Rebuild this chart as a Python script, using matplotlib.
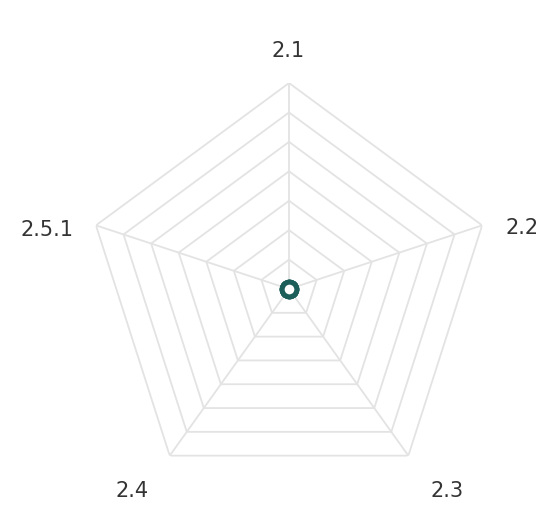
import numpy as np
import matplotlib.pyplot as plt

categories = ['2.1', '2.2', '2.3', '2.4', '2.5.1']
values = [0, 0, 0, 0, 0]
levels = [1, 2, 3, 4, 5, 6, 7]

angles = np.linspace(0, 2 * np.pi, len(categories), endpoint=False)
closed = np.append(angles, angles[0])

fig = plt.figure(figsize=(5.4, 5.05), dpi=100)
ax = fig.add_axes([0.1593, 0.0198, 0.7519, 0.8158], projection='polar')
ax.set_aspect('auto')
ax.set_theta_offset(np.pi / 2)
ax.set_theta_direction(-1)
ax.set_ylim(0, levels[-1])
ax.grid(False)
ax.spines['polar'].set_visible(False)
ax.set_xticks([])
ax.set_yticks([])
ax.patch.set_alpha(0)

grid_color = '#e3e3e3'
for lv in levels:
    ax.plot(closed, [lv] * len(closed), color=grid_color, lw=1.3, zorder=1)
for a in angles:
    ax.plot([a, a], [0, levels[-1]], color=grid_color, lw=1.3, zorder=1)

# series (all zero -> single point in the middle)
v = np.append(values, values[0])
ax.plot(closed, v, color='#1b5e5a', lw=2, marker='o', markersize=10.5,
        markerfacecolor='white', markeredgewidth=3.5, zorder=3, clip_on=False)

# point labels: offset from the outer vertex, in pixels
label_style = [
    ((-1, 26), 'center'),
    ((23, -9), 'left'),
    ((39, -41), 'center'),
    ((-38, -41), 'center'),
    ((-22, -11), 'right'),
]
for a, lab, (off, ha) in zip(angles, categories, label_style):
    ax.annotate(lab, xy=(a, levels[-1]), xytext=(off[0] * 0.72, off[1] * 0.72),
                textcoords='offset points', ha=ha, va='baseline',
                fontsize=15, color='#333333', annotation_clip=False)

fig.savefig('out.png', dpi=100)
